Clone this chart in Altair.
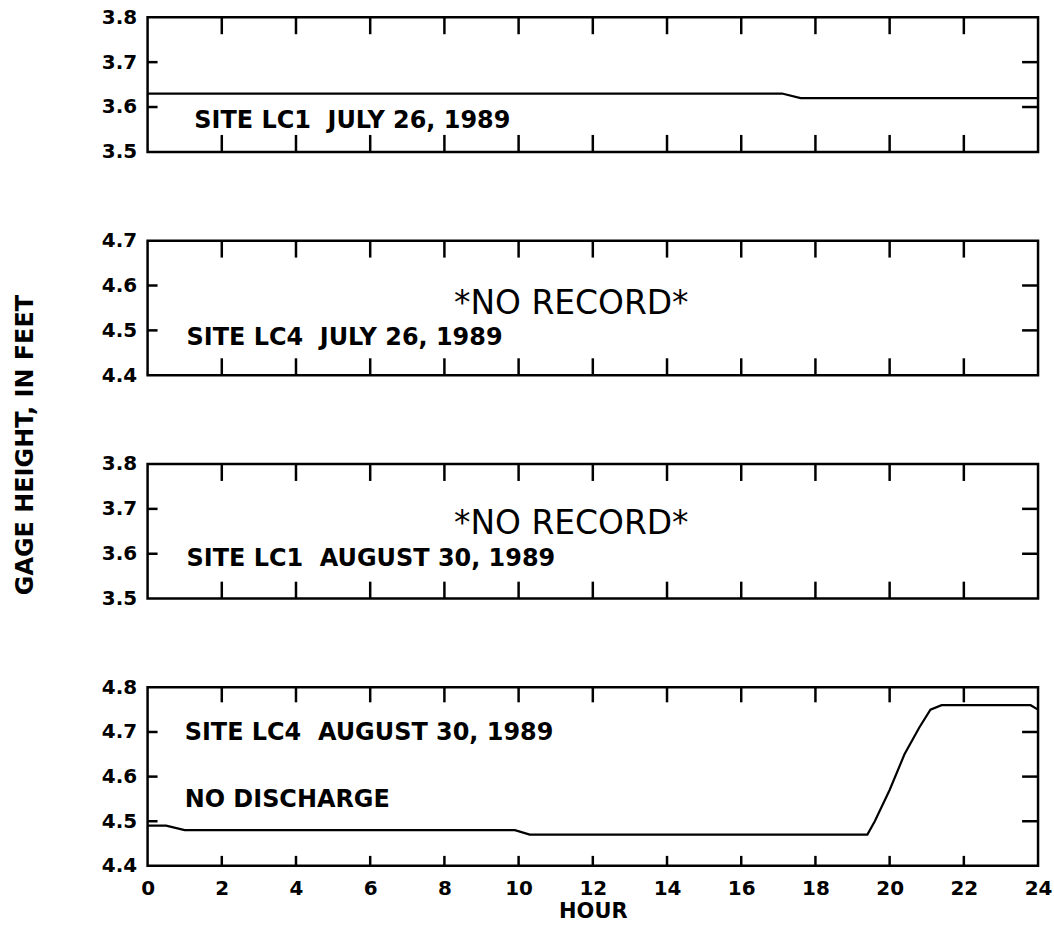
import altair as alt
import pandas as pd

# ---------------- data ----------------
x_label_values = [0, 2, 4, 6, 8, 10, 12, 14, 16, 18, 20, 22, 24]
x_tick_values = [2, 4, 6, 8, 10, 12, 14, 16, 18, 20, 22]

# Panel 1: site LC1, July 26, 1989
p1_hour = [0, 17.1, 17.6, 24]
p1_gage = [3.63, 3.63, 3.62, 3.62]

# Panel 4: site LC4, August 30, 1989
p4_hour = [0, 0.5, 1.0, 9.9, 10.3, 19.4, 19.6, 20.0, 20.4, 20.8, 21.1, 21.4, 23.8, 24.0]
p4_gage = [4.49, 4.49, 4.48, 4.48, 4.47, 4.47, 4.50, 4.57, 4.65, 4.71, 4.75, 4.76, 4.76, 4.75]

panel_domains = [[3.5, 3.8], [4.4, 4.7], [3.5, 3.8], [4.4, 4.8]]
panel_yvalues = [[3.5, 3.6, 3.7, 3.8], [4.4, 4.5, 4.6, 4.7], [3.5, 3.6, 3.7, 3.8], [4.4, 4.5, 4.6, 4.7, 4.8]]

NB = "\u00a0"
site_labels = ["SITE LC1 " + NB + "JULY 26, 1989", "SITE LC4 " + NB + "JULY 26, 1989",
               "SITE LC1 " + NB + "AUGUST 30, 1989", "SITE LC4 " + NB + "AUGUST 30, 1989"]
site_x = [1.26, 1.05, 1.05, 1.0]
site_y = [3.568, 4.484, 3.588, 4.697]

norecord_text = "*NO RECORD*"
norecord_x = [None, 11.42, 11.42, None]
norecord_y = [None, 4.558, 3.667, None]

extra_text = ["", "", "", "NO DISCHARGE"]
extra_x = [None, None, None, 1.0]
extra_y = [None, None, None, 4.547]

y_title = "GAGE HEIGHT, IN FEET"
x_title = "HOUR"

# ---------------- layout ----------------
W = 893
H_small = 135
H_big = 179
FONT = "DejaVu Sans"
SW = 2.5


def build_panel(i):
    dom = panel_domains[i]
    yvals = panel_yvalues[i]
    H = H_big if i == 3 else H_small
    bottom = i == 3

    xscale = alt.Scale(domain=[0, 24], nice=False, zero=False)
    yscale = alt.Scale(domain=dom, nice=False, zero=False)
    if bottom:
        xaxis = alt.Axis(values=x_label_values, ticks=False, domain=False, grid=False,
                         labelPadding=13, labelFontSize=20, labelFlush=False, labelOverlap=False,
                         title=x_title, titleFontSize=21, titlePadding=2)
    else:
        xaxis = None
    yaxis = alt.Axis(values=yvals, ticks=False, domain=False, grid=False, format=".1f",
                     labelPadding=11, labelFontSize=20, labelFlush=False, labelOverlap=False,
                     title=None)

    def X(field):
        return alt.X(field, type="quantitative", scale=xscale, axis=xaxis)

    def Y(field):
        return alt.Y(field, type="quantitative", scale=yscale, axis=yaxis)

    layers = []
    inner = yvals[1:-1]
    ydf = pd.DataFrame({"v": inner})
    layers.append(alt.Chart(ydf).mark_rule(color="black", strokeWidth=SW).encode(
        y=Y("v"), x=alt.value(0), x2=alt.value(10)))
    layers.append(alt.Chart(ydf).mark_rule(color="black", strokeWidth=SW).encode(
        y=Y("v"), x=alt.value(W - 16), x2=alt.value(W)))
    tdf = pd.DataFrame({"h": x_tick_values})
    top_len = 15 if bottom else 17
    bot_len = 10 if bottom else 17
    layers.append(alt.Chart(tdf).mark_rule(color="black", strokeWidth=SW).encode(
        x=X("h"), y=alt.value(0), y2=alt.value(top_len)))
    layers.append(alt.Chart(tdf).mark_rule(color="black", strokeWidth=SW).encode(
        x=X("h"), y=alt.value(H - bot_len), y2=alt.value(H)))

    if i == 0:
        ldf = pd.DataFrame({"h": p1_hour, "g": p1_gage})
        layers.append(alt.Chart(ldf).mark_line(color="black", strokeWidth=2.2).encode(x=X("h"), y=Y("g")))
    if i == 3:
        ldf = pd.DataFrame({"h": p4_hour, "g": p4_gage})
        layers.append(alt.Chart(ldf).mark_line(color="black", strokeWidth=2.2).encode(x=X("h"), y=Y("g")))

    sdf = pd.DataFrame({"h": [site_x[i]], "g": [site_y[i]], "t": [site_labels[i]]})
    layers.append(alt.Chart(sdf).mark_text(align="left", baseline="middle", font=FONT,
                                           fontWeight="bold", fontSize=24, color="black").encode(
        x=X("h"), y=Y("g"), text="t:N"))
    if norecord_x[i] is not None:
        ndf = pd.DataFrame({"h": [norecord_x[i]], "g": [norecord_y[i]], "t": [norecord_text]})
        layers.append(alt.Chart(ndf).mark_text(align="center", baseline="middle", font=FONT,
                                               fontWeight="normal", fontSize=33, color="black").encode(
            x=X("h"), y=Y("g"), text="t:N"))
    if extra_x[i] is not None:
        edf = pd.DataFrame({"h": [extra_x[i]], "g": [extra_y[i]], "t": [extra_text[i]]})
        layers.append(alt.Chart(edf).mark_text(align="left", baseline="middle", font=FONT,
                                               fontWeight="bold", fontSize=24, color="black").encode(
            x=X("h"), y=Y("g"), text="t:N"))
    if i == 2:
        tdf2 = pd.DataFrame({"t": [y_title]})
        layers.append(alt.Chart(tdf2).mark_text(align="center", baseline="middle", angle=270,
                                                font=FONT, fontWeight="bold", fontSize=24,
                                                color="black").encode(
            x=alt.value(-122), y=alt.value(-19), text="t:N"))

    return alt.layer(*layers).properties(width=W, height=H)


chart = alt.vconcat(*[build_panel(i) for i in range(4)], spacing=89, bounds="flush").properties(
    padding={"left": 12, "top": 4, "right": 0, "bottom": 3},
    background="white",
).configure_view(
    stroke="black", strokeWidth=SW
).configure_axis(
    labelFont=FONT, labelFontWeight="bold", labelColor="black",
    titleFont=FONT, titleFontWeight="bold", titleColor="black",
)

chart.save("out.html", embed_options={"renderer": "svg", "actions": False})
